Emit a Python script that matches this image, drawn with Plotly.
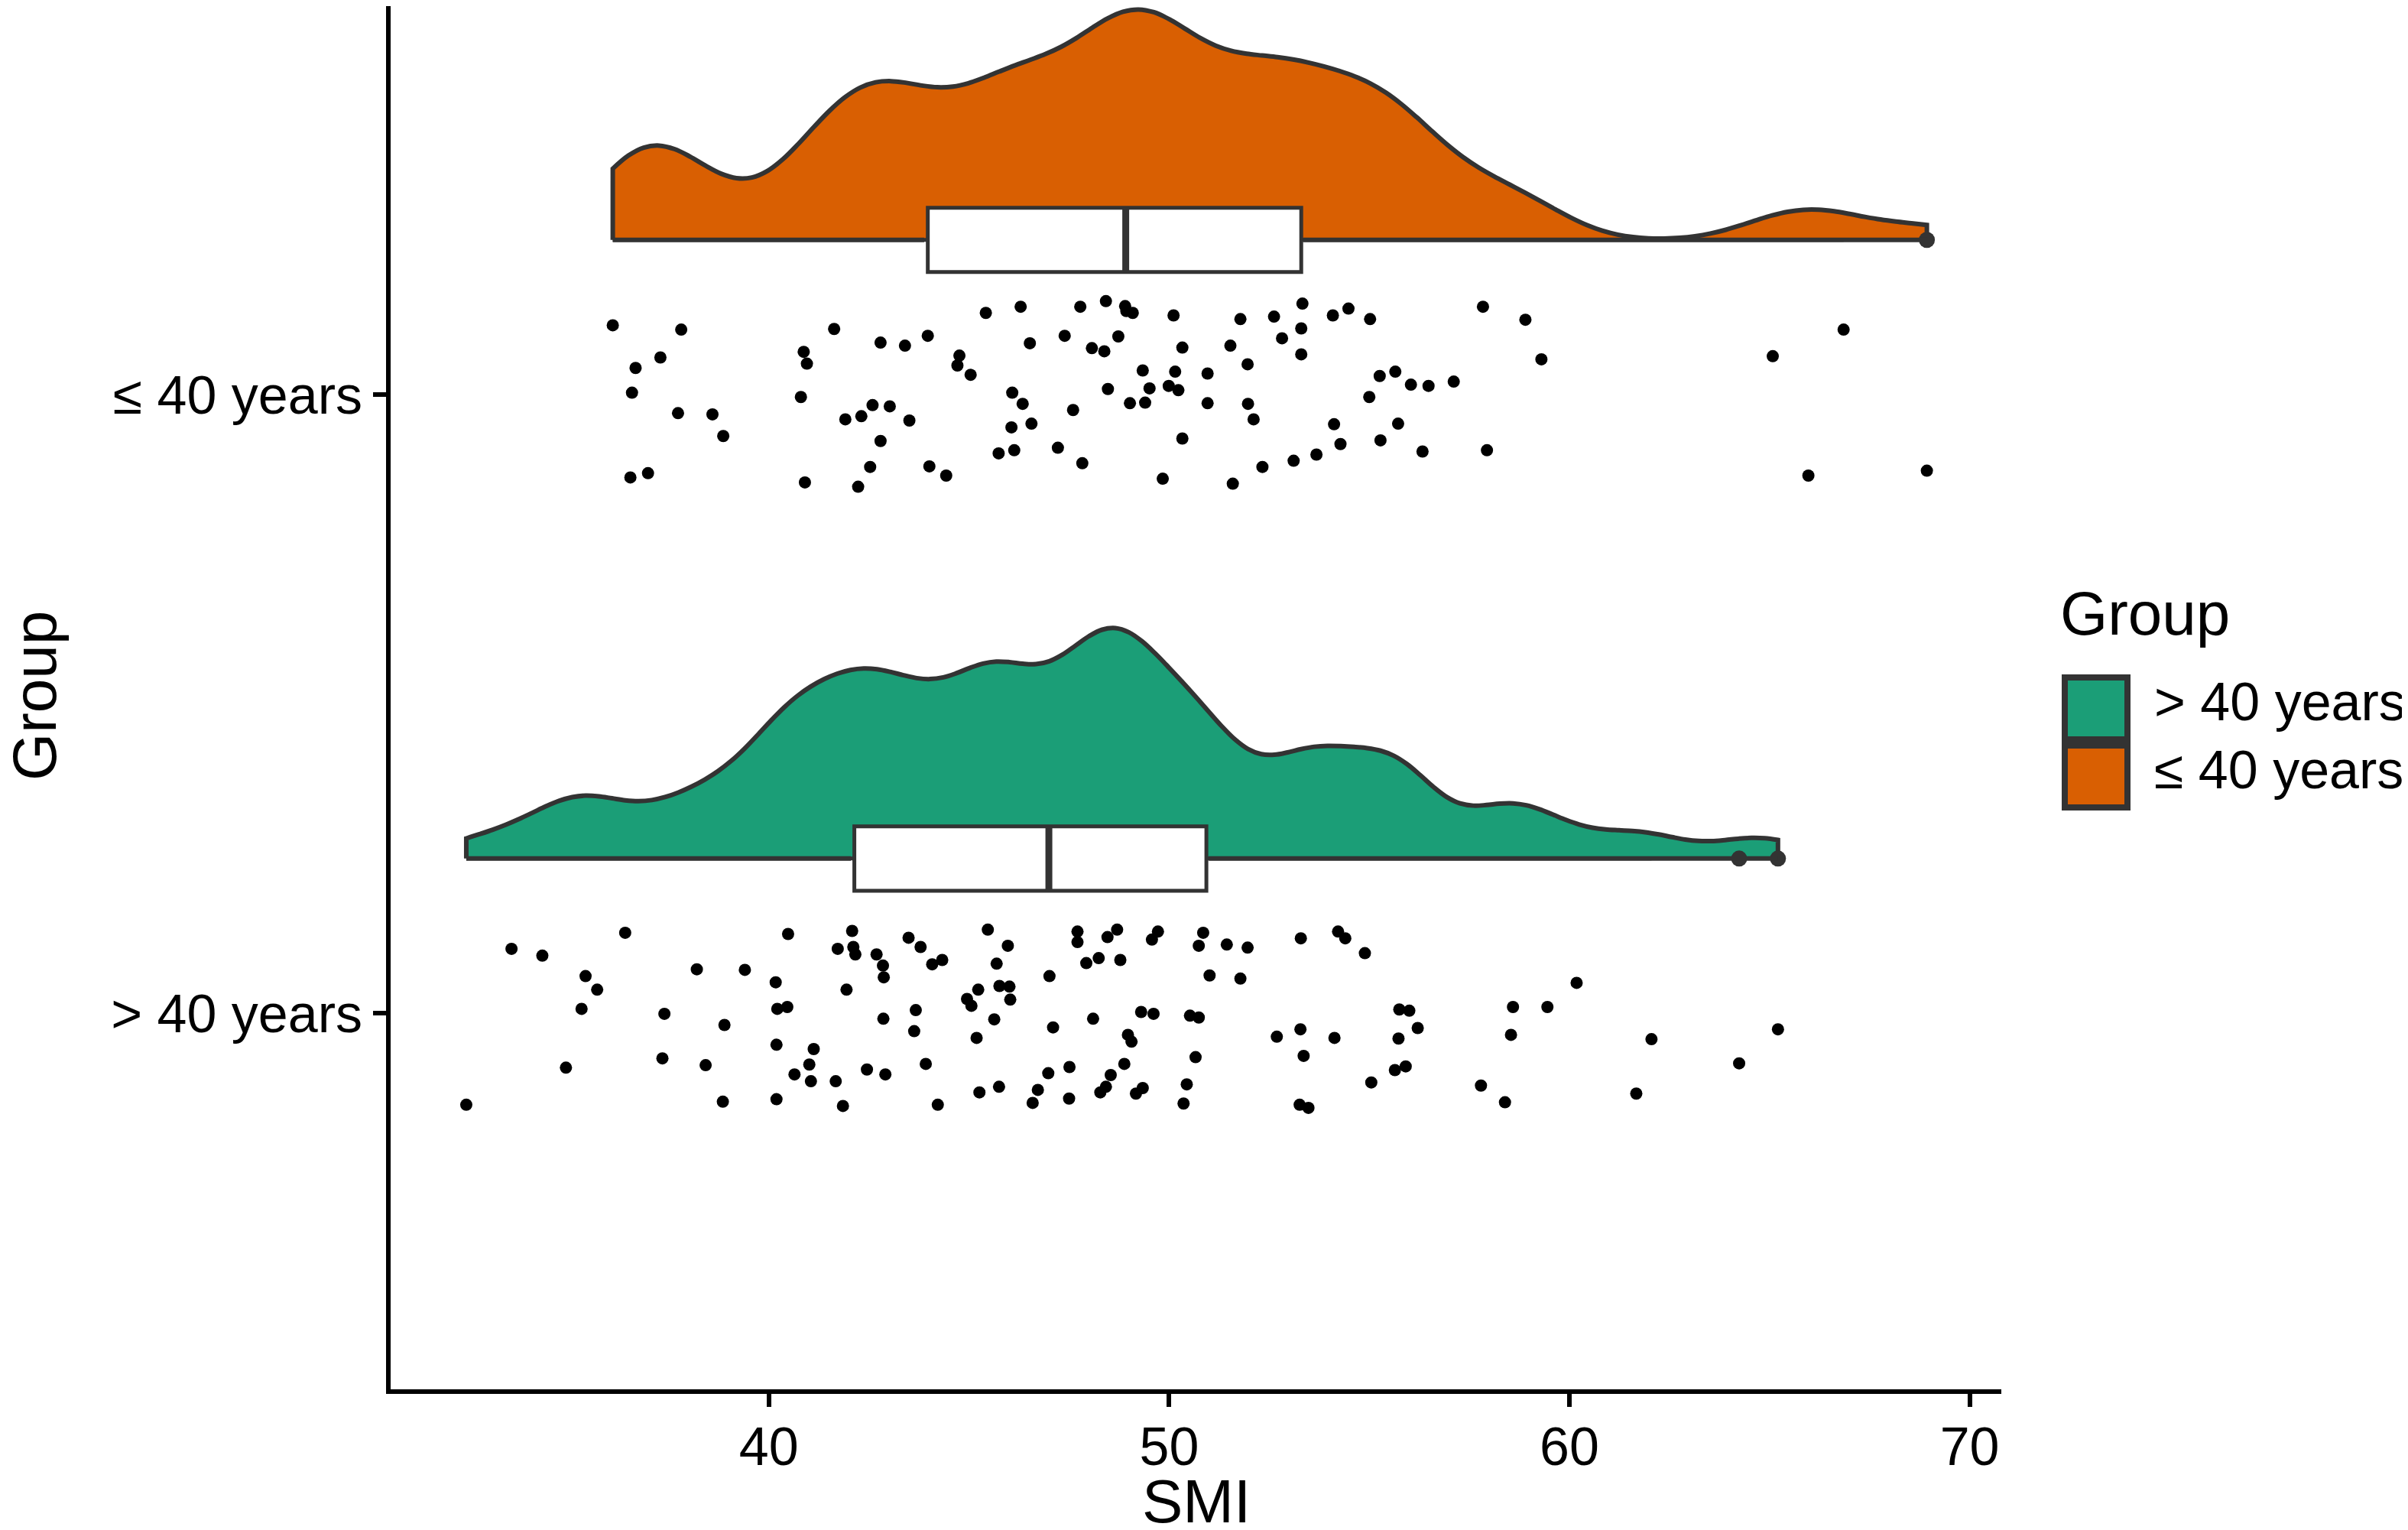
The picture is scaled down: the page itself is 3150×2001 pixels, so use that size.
import numpy as np
import plotly.graph_objects as go

# ---------------- data ----------------
groups = ["> 40 years", "≤ 40 years"]          # y positions 1 and 2
group_colors = ["#1B9E77", "#D95F02"]
x_ticks = [40, 50, 60, 70]

le40_smi = [
    36.10, 37.81, 37.29, 36.67, 36.58, 37.73, 38.59, 38.86, 36.54, 36.98,
    41.63, 40.87, 40.95, 40.80, 42.79, 43.40, 43.97, 45.42, 46.29, 46.52,
    44.76, 44.71, 45.04, 46.08, 46.34, 46.06, 46.56, 41.91, 42.31, 42.59,
    43.02, 43.51, 42.79, 42.53, 44.01, 44.43, 40.90, 42.23, 45.74, 46.13,
    47.78, 48.42, 48.90, 49.09, 48.93, 50.11, 47.39, 48.73, 48.07, 48.38,
    50.33, 49.34, 50.15, 50.96, 48.47, 49.51, 49.99, 50.23, 49.02, 49.40,
    50.96, 47.60, 47.22, 47.83, 50.33, 49.84, 51.59, 51.78, 51.53, 52.62,
    51.96, 52.82, 53.30, 53.33, 53.30, 51.97, 52.11, 54.09, 54.48, 55.02,
    57.84, 55.26, 55.65, 56.04, 56.48, 57.11, 55.00, 54.12, 55.72, 54.28,
    55.28, 56.33, 57.94, 53.68, 53.11, 52.33,
    58.90, 59.30, 65.08, 66.85, 65.97, 68.93,
]
le40_jitter = [
    0.112, 0.105, 0.060, 0.043, 0.003, -0.030, -0.032, -0.067, -0.134, -0.127,
    0.106, 0.069, 0.050, -0.004, 0.084, 0.079, 0.095, 0.132, 0.142, 0.083,
    0.063, 0.047, 0.032, 0.003, -0.015, -0.053, -0.047, -0.040, -0.035, -0.017,
    -0.019, -0.042, -0.075, -0.117, -0.116, -0.131, -0.142, -0.149, -0.095, -0.090,
    0.142, 0.151, 0.143, 0.132, 0.135, 0.128, 0.095, 0.094, 0.075, 0.070,
    0.076, 0.039, 0.037, 0.034, 0.009, 0.010, 0.014, 0.007, -0.014, -0.013,
    -0.014, -0.025, -0.086, -0.111, -0.071, -0.136, -0.144, 0.122, 0.079, 0.126,
    0.049, 0.091, 0.107, 0.147, 0.065, -0.015, -0.040, 0.128, 0.139, 0.122,
    0.142, 0.030, 0.037, 0.016, 0.014, 0.021, -0.004, -0.048, -0.047, -0.080,
    -0.074, -0.092, -0.090, -0.097, -0.107, -0.117,
    0.121, 0.057, 0.062, 0.105, -0.131, -0.123,
]

gt40_smi = [
    32.44, 33.57, 34.34, 36.41, 35.42, 35.71, 35.32, 34.93, 37.39, 38.20,
    39.40, 38.89, 37.34, 38.42, 38.85, 40.17, 40.21, 40.46, 40.19, 40.48,
    42.08, 41.72, 42.11, 42.16, 42.69, 42.85, 42.87, 41.94, 42.86, 41.12,
    41.01, 40.64, 41.05, 41.67, 42.45, 42.91, 40.19, 41.85,
    43.49, 43.79, 44.08, 44.33, 45.47, 45.97, 45.69, 47.01, 47.71, 47.71,
    48.46, 48.70, 47.93, 48.24, 48.78, 49.57, 49.72, 50.85, 50.74, 51.44,
    51.96, 51.01, 51.78, 53.29, 54.22, 54.40, 45.23, 44.95, 45.06, 45.76,
    46.01, 46.03, 43.67, 43.63, 45.63, 45.19, 47.10, 48.10, 49.30, 49.61,
    50.52, 50.74, 48.97, 49.06, 50.66, 52.69, 53.28, 54.13, 53.36, 43.92,
    44.22, 45.26, 45.75, 46.98, 47.51, 46.72, 46.59, 47.50, 48.88, 48.54,
    48.42, 48.28, 49.17, 49.34, 50.44, 50.36, 53.26, 53.48,
    54.89, 55.75, 56.00, 56.21, 55.73, 55.64, 55.91, 55.05, 58.59, 59.45,
    58.54, 60.18, 62.05, 57.79, 58.39, 61.67, 65.21, 64.24,
]
gt40_jitter = [
    -0.148, 0.104, 0.093, 0.130, 0.060, 0.038, 0.007, -0.088, -0.001, 0.071,
    0.070, -0.019, -0.073, -0.084, -0.143, 0.050, 0.007, 0.010, -0.051, 0.128,
    0.133, 0.104, 0.107, 0.095, 0.095, 0.077, 0.058, 0.038, -0.009, -0.058,
    -0.083, -0.099, -0.110, -0.110, -0.091, -0.099, -0.139, -0.150,
    0.122, 0.107, 0.079, 0.086, 0.135, 0.109, 0.080, 0.060, 0.132, 0.115,
    0.123, 0.135, 0.081, 0.089, 0.086, 0.119, 0.132, 0.130, 0.109, 0.111,
    0.106, 0.061, 0.056, 0.121, 0.132, 0.121, 0.038, 0.023, 0.012, 0.044,
    0.043, 0.022, 0.005, -0.029, -0.010, -0.040, -0.023, -0.009, 0.002, -0.001,
    -0.004, -0.007, -0.035, -0.046, -0.071, -0.038, -0.026, -0.040, -0.069, -0.082,
    -0.148, -0.128, -0.119, -0.097, -0.087, -0.124, -0.145, -0.138, -0.082, -0.100,
    -0.119, -0.128, -0.130, -0.121, -0.115, -0.146, -0.148, -0.153,
    0.097, 0.006, 0.004, -0.024, -0.041, -0.092, -0.086, -0.112, 0.010, 0.010,
    -0.035, 0.049, -0.042, -0.117, -0.144, -0.130, -0.026, -0.081,
]

# ---------------- styling ----------------
FONT = "Liberation Sans"
OUTLINE = "#333333"
PAGE_OFF = 8                      # browser body margin
W, H = 3150 - PAGE_OFF, 2001 - PAGE_OFF
# plot-area edges in reference-image pixels
L, R, T, B = 511, 2618, PAGE_OFF, 1817
NUDGE = 0.25
VIOLIN_W = 0.745
BOX_W = 0.104
LINE_W = 6

def px2x(X):
    return (X - L) / (R - L)

def px2y(Y):
    return (B - Y) / (B - T)

series = [
    (1, gt40_smi, gt40_jitter, group_colors[0], 1.0),
    (2, le40_smi, le40_jitter, group_colors[1], 1.16),
]

fig = go.Figure()

for pos, smi, jit, col, bw in series:
    n = len(smi)
    fig.add_trace(go.Violin(
        x=smi, y=[pos + NUDGE] * n, orientation="h", side="positive",
        width=VIOLIN_W, spanmode="hard", bandwidth=bw, scalemode="width",
        fillcolor=col, line=dict(color=OUTLINE, width=LINE_W), opacity=1,
        points=False, box_visible=False, meanline_visible=False,
        hoverinfo="skip", showlegend=False,
    ))
    # flat side of the half violin (outside the box)
    q1, q3 = np.percentile(smi, [25, 75])
    fig.add_trace(go.Scatter(
        x=[min(smi), q1 - 0.1, None, q3 + 0.1, max(smi)],
        y=[pos + NUDGE] * 5, mode="lines", connectgaps=False,
        line=dict(color=OUTLINE, width=LINE_W),
        hoverinfo="skip", showlegend=False,
    ))

for pos, smi, jit, col, bw in series:
    fig.add_trace(go.Scatter(
        x=smi, y=[pos + j for j in jit], mode="markers",
        marker=dict(color="black", size=16, line=dict(width=0)),
        hoverinfo="skip", showlegend=False,
    ))

for pos, smi, jit, col, bw in series:
    n = len(smi)
    fig.add_trace(go.Box(
        x=smi, y=[pos + NUDGE] * n, orientation="h", width=BOX_W,
        fillcolor="white", line=dict(color=OUTLINE, width=5),
        whiskerwidth=0, boxpoints="outliers", jitter=0, pointpos=0,
        quartilemethod="linear",
        marker=dict(color=OUTLINE, size=21, line=dict(width=0)),
        hoverinfo="skip", showlegend=False,
    ))
    med = float(np.median(smi))
    fig.add_trace(go.Scatter(
        x=[med, med], y=[pos + NUDGE - BOX_W / 2, pos + NUDGE + BOX_W / 2],
        mode="lines", line=dict(color=OUTLINE, width=9),
        hoverinfo="skip", showlegend=False,
    ))

axis_common = dict(
    showgrid=False, zeroline=False, showline=True, linecolor="black",
    linewidth=6, ticks="outside", ticklen=17, tickwidth=6, tickcolor="black",
    tickfont=dict(family=FONT, size=70, color="black"),
)

y_top = 2 + (516 - T) / 809.0
fig.update_xaxes(range=[30.55, 70.79], tickvals=x_ticks,
                 ticklabelstandoff=-8, **axis_common)
fig.update_yaxes(range=[0.392, y_top], tickvals=[1, 2], ticktext=groups,
                 **axis_common)

annotations = [
    dict(text="SMI", x=px2x(1565), y=px2y(1917), xanchor="center",
         yanchor="top", font=dict(family=FONT, size=80, color="black")),
    dict(text="Group", x=px2x(46), y=px2y(910), xanchor="center",
         yanchor="middle", textangle=-90,
         font=dict(family=FONT, size=80, color="black")),
    dict(text="Group", x=px2x(2693), y=px2y(802), xanchor="left",
         yanchor="middle", font=dict(family=FONT, size=80, color="black")),
]
shapes = []
key_tops = [886, 975]
for i, (name, col) in enumerate(zip(groups, group_colors)):
    top = key_tops[i]
    bot = top + 81
    shapes.append(dict(type="rect", xref="paper", yref="paper",
                       x0=px2x(2701), x1=px2x(2783), y0=px2y(bot), y1=px2y(top),
                       fillcolor=col, line=dict(color=OUTLINE, width=8)))
    annotations.append(dict(text=name, x=px2x(2816), y=px2y((top + bot) / 2 - 9),
                            xanchor="left", yanchor="middle",
                            font=dict(family=FONT, size=70, color="black")))

for a in annotations:
    a.update(xref="paper", yref="paper", showarrow=False)

fig.update_layout(
    width=W, height=H,
    margin=dict(l=L - PAGE_OFF, r=3150 - R, t=T - PAGE_OFF, b=2001 - B),
    plot_bgcolor="white", paper_bgcolor="white",
    annotations=annotations, shapes=shapes, showlegend=False,
    font=dict(family=FONT),
)

fig.write_html("out.html")
